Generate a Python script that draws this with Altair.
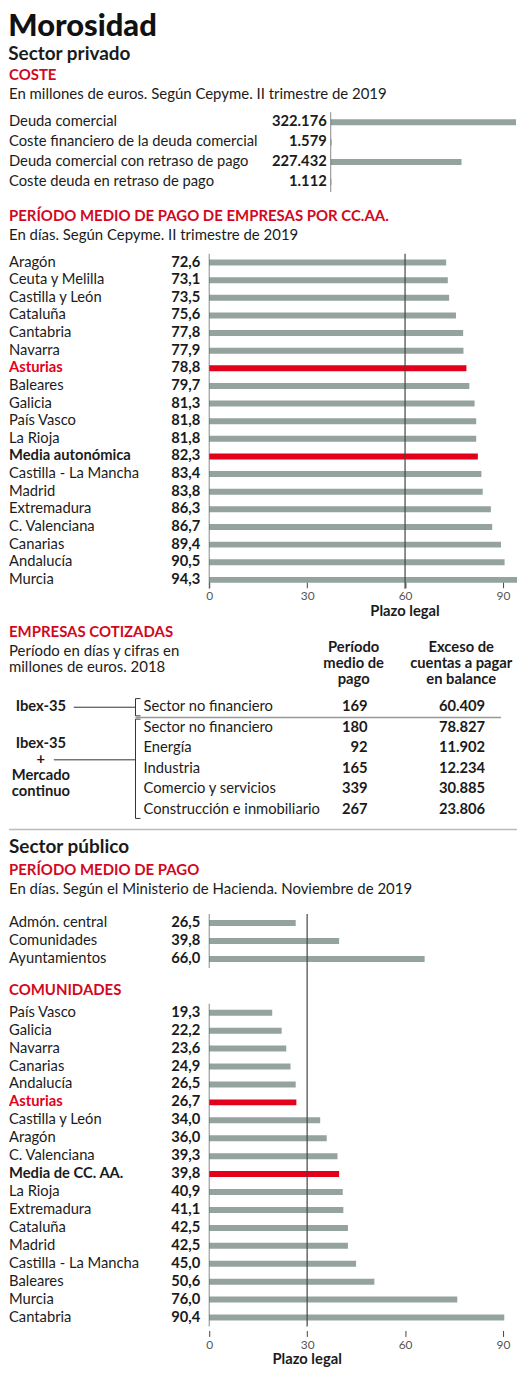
import pandas as pd
import altair as alt

# --- Sector privado: coste (millones de euros) ---
coste_conceptos = [
    "Deuda comercial",
    "Coste financiero de la deuda comercial",
    "Deuda comercial con retraso de pago",
    "Coste deuda en retraso de pago",
]
coste_millones = [322176, 1579, 227432, 1112]

# --- Sector privado: periodo medio de pago por CC.AA. (días) ---
ccaa_privado = [
    "Aragón", "Ceuta y Melilla", "Castilla y León", "Cataluña", "Cantabria",
    "Navarra", "Asturias", "Baleares", "Galicia", "País Vasco", "La Rioja",
    "Media autonómica", "Castilla - La Mancha", "Madrid", "Extremadura",
    "C. Valenciana", "Canarias", "Andalucía", "Murcia",
]
dias_privado = [72.6, 73.1, 73.5, 75.6, 77.8, 77.9, 78.8, 79.7, 81.3, 81.8,
                81.8, 82.3, 83.4, 83.8, 86.3, 86.7, 89.4, 90.5, 94.3]
destacados_privado = ["Asturias", "Media autonómica"]

# --- Empresas cotizadas (2018) ---
grupos_nombres = ["Ibex-35", "Ibex-35\n+\nMercado\ncontinuo"]
cot_grupo = [0, 1, 1, 1, 1, 1]
cot_sectores = [
    "Sector no financiero", "Sector no financiero", "Energía", "Industria",
    "Comercio y servicios", "Construcción e inmobiliario",
]
cot_periodo = [169, 180, 92, 165, 339, 267]
cot_exceso = [60409, 78827, 11902, 12234, 30885, 23806]
cab_periodo = "Período\nmedio de\npago"
cab_exceso = "Exceso de\ncuentas a pagar\nen balance"

# --- Sector público (días) ---
admin_publico = ["Admón. central", "Comunidades", "Ayuntamientos"]
dias_admin = [26.5, 39.8, 66.0]
TITULO_CCAA = "COMUNIDADES"
ccaa_publico = [
    "País Vasco", "Galicia", "Navarra", "Canarias", "Andalucía", "Asturias",
    "Castilla y León", "Aragón", "C. Valenciana", "Media de CC. AA.", "La Rioja",
    "Extremadura", "Cataluña", "Madrid", "Castilla - La Mancha", "Baleares",
    "Murcia", "Cantabria",
]
dias_publico = [19.3, 22.2, 23.6, 24.9, 26.5, 26.7, 34.0, 36.0, 39.3, 39.8,
                40.9, 41.1, 42.5, 42.5, 45.0, 50.6, 76.0, 90.4]
destacados_publico = ["Asturias", "Media de CC. AA."]

PLAZO_PRIVADO = 60
PLAZO_PUBLICO = 30
TICKS_DIAS = [0, 30, 60, 90]

FUENTE = "Lato"
GRIS = "#95a3a0"
ROJO = "#e3001b"
ROJO_TIT = "#d2081f"
NEGRO = "#1b1b1b"
ANCHO = 510
TAM = 14.8


def decimal_es(v):
    return f"{v:.1f}".replace(".", ",")


def miles_es(v):
    return f"{v:,}".replace(",", ".")


def titulo(texto, subtitulo, offset=9):
    return alt.TitleParams(
        texto, subtitle=subtitulo, anchor="start", font=FUENTE, fontSize=15,
        fontWeight="bold", color=ROJO_TIT, subtitleFont=FUENTE,
        subtitleFontSize=15, subtitleColor=NEGRO, subtitlePadding=4,
        subtitleLineHeight=16, offset=offset,
    )


def chart_dias(regiones, dias, destacados, dominio, paso, plazo, tit, sub,
               offset_eje, offset_tit, cabecera=None):
    df = pd.DataFrame({"region": regiones, "dias": dias})
    df["texto"] = df["dias"].map(decimal_es)
    df["destacado"] = df["region"].isin(destacados)
    df["rojo"] = df["region"] == "Asturias"
    alto = paso * len(dominio)
    escala_x = alt.Scale(domain=[0, 94.3], range=[201, ANCHO], nice=False)
    y = alt.Y("region:N", axis=None,
              scale=alt.Scale(domain=dominio, paddingInner=0, paddingOuter=0))
    base = alt.Chart(df).encode(y=y)

    barras = base.mark_bar(size=6).encode(
        x=alt.X("dias:Q", scale=escala_x).axis(
            values=TICKS_DIAS, domain=False, grid=False, tickColor="#444",
            tickSize=6, labelColor="#555", labelFont=FUENTE, labelFontSize=12,
            labelPadding=3, labelFlush=False, offset=offset_eje, title=None,
        ),
        color=alt.condition("datum.destacado", alt.value(ROJO), alt.value(GRIS)),
    )
    cero = base.mark_tick(orient="vertical", size=paso, thickness=1,
                          color="#555").encode(x=alt.datum(0))
    normales = base.transform_filter("!datum.destacado").mark_text(
        align="left", font=FUENTE, fontSize=TAM, color=NEGRO
    ).encode(x=alt.value(0), text="region:N")
    negritas = base.transform_filter("datum.destacado").mark_text(
        align="left", font=FUENTE, fontSize=TAM, fontWeight="bold"
    ).encode(
        x=alt.value(0), text="region:N",
        color=alt.condition("datum.rojo", alt.value(ROJO), alt.value(NEGRO)),
    )
    cifras = base.mark_text(
        align="right", font=FUENTE, fontSize=TAM, fontWeight="bold", color=NEGRO
    ).encode(x=alt.value(192), text="texto:N")

    df_plazo = pd.DataFrame({"t": ["Plazo legal"]})
    linea = alt.Chart(df_plazo).mark_rule(color="#444", strokeWidth=1.2).encode(
        x=alt.datum(plazo))
    leyenda = alt.Chart(df_plazo).mark_text(
        font=FUENTE, fontSize=TAM, fontWeight="bold", color=NEGRO
    ).encode(x=alt.datum(plazo), y=alt.value(alto + offset_eje + 30), text="t:N")

    capas = [barras, cero, linea, normales, negritas, cifras, leyenda]
    if cabecera:
        capas.append(
            alt.Chart(pd.DataFrame({"t": [cabecera]})).mark_text(
                align="left", font=FUENTE, fontSize=15, fontWeight="bold",
                color=ROJO_TIT, dy=-5,
            ).encode(x=alt.value(0), y=alt.datum(cabecera), text="t:N")
        )
    return alt.layer(*capas).properties(
        width=ANCHO, height=alto, title=titulo(tit, sub, offset_tit))


# --- Coste ---
df_coste = pd.DataFrame({"concepto": coste_conceptos, "valor": coste_millones})
df_coste["texto"] = df_coste["valor"].map(miles_es)
base_c = alt.Chart(df_coste).encode(
    y=alt.Y("concepto:N", sort=coste_conceptos, axis=None,
            scale=alt.Scale(paddingInner=0, paddingOuter=0)))
escala_c = alt.Scale(domain=[0, max(coste_millones)], range=[323, ANCHO - 1],
                     nice=False)
coste = alt.layer(
    base_c.mark_bar(size=6, color=GRIS).encode(
        x=alt.X("valor:Q", scale=escala_c, axis=None)),
    base_c.mark_tick(orient="vertical", size=20, thickness=1, color="#555")
    .encode(x=alt.datum(0)),
    base_c.mark_text(align="left", font=FUENTE, fontSize=TAM, color=NEGRO)
    .encode(x=alt.value(0), text="concepto:N"),
    base_c.mark_text(align="right", font=FUENTE, fontSize=TAM,
                     fontWeight="bold", color=NEGRO)
    .encode(x=alt.value(319), text="texto:N"),
).properties(
    width=ANCHO, height=80,
    title=titulo("COSTE", "En millones de euros. Según Cepyme. II trimestre de 2019",
                 10),
)

privado = chart_dias(
    ccaa_privado, dias_privado, destacados_privado, ccaa_privado, 17.7,
    PLAZO_PRIVADO, "PERÍODO MEDIO DE PAGO DE EMPRESAS POR CC.AA.",
    "En días. Según Cepyme. II trimestre de 2019", -7, 10,
)

# --- Empresas cotizadas ---
df_cot = pd.DataFrame({
    "fila": range(len(cot_sectores)), "grupo": cot_grupo,
    "sector": cot_sectores, "periodo": cot_periodo,
})
df_cot["exceso"] = [miles_es(v) for v in cot_exceso]
df_grp = df_cot.groupby("grupo")["fila"].agg(["min", "max", "mean"]).reset_index()
df_grp["nombre"] = [grupos_nombres[g] for g in df_grp["grupo"]]
df_grp["ini"] = df_grp["min"] - 0.42
df_grp["fin"] = df_grp["max"] + 0.42
df_grp["corte"] = df_grp["min"] - 0.5

y_fila = alt.Scale(domain=[-0.5, len(cot_sectores) - 0.5], reverse=True,
                   nice=False, zero=False)
base_t = alt.Chart(df_cot).encode(y=alt.Y("fila:Q", scale=y_fila, axis=None))
base_g = alt.Chart(df_grp)
txt = dict(font=FUENTE, fontSize=TAM, color=NEGRO)
cab = dict(font=FUENTE, fontSize=TAM, fontWeight="bold", color=NEGRO,
           lineBreak="\n", lineHeight=16, baseline="top", align="center")
y_centro = alt.Y("mean:Q", scale=y_fila)
cotizadas = alt.layer(
    base_t.mark_text(align="left", **txt).encode(x=alt.value(135), text="sector:N"),
    base_t.mark_text(align="right", fontWeight="bold", **txt)
    .encode(x=alt.value(360), text="periodo:N"),
    base_t.mark_text(align="right", fontWeight="bold", **txt)
    .encode(x=alt.value(478), text="exceso:N"),
    alt.Chart(pd.DataFrame({"t": [cab_periodo]})).mark_text(**cab)
    .encode(x=alt.value(346), y=alt.value(-57), text="t:N"),
    alt.Chart(pd.DataFrame({"t": [cab_exceso]})).mark_text(**cab)
    .encode(x=alt.value(454), y=alt.value(-57), text="t:N"),
    base_g.transform_filter("datum.grupo == 0").mark_text(
        align="center", fontWeight="bold", **txt
    ).encode(x=alt.value(32), y=y_centro, text="nombre:N"),
    base_g.transform_filter("datum.grupo == 1").mark_text(
        align="center", fontWeight="bold", lineBreak="\n", lineHeight=16, dy=-25,
        **txt
    ).encode(x=alt.value(32), y=y_centro, text="nombre:N"),
    base_g.mark_rule(color="#333").encode(
        x=alt.value(127), y=alt.Y("ini:Q", scale=y_fila), y2="fin:Q"),
    base_g.mark_rule(color="#333").encode(
        x=alt.value(127), x2=alt.value(132), y=alt.Y("ini:Q", scale=y_fila)),
    base_g.mark_rule(color="#333").encode(
        x=alt.value(127), x2=alt.value(132), y=alt.Y("fin:Q", scale=y_fila)),
    base_g.transform_filter("datum.grupo == 0").mark_rule(color="#333").encode(
        x=alt.value(65), x2=alt.value(127), y=y_centro),
    base_g.transform_filter("datum.grupo == 1").mark_rule(color="#333", yOffset=-9)
    .encode(x=alt.value(45), x2=alt.value(127), y=y_centro),
    base_g.transform_filter("datum.grupo > 0").mark_rule(
        color="#999", strokeWidth=1.5
    ).encode(x=alt.value(127), x2=alt.value(494), y=alt.Y("corte:Q", scale=y_fila)),
).properties(
    width=ANCHO, height=20.6 * len(cot_sectores),
    title=titulo("EMPRESAS COTIZADAS",
                 ["Período en días y cifras en", "millones de euros. 2018"], -35),
)

# --- Cabecera sector público ---
df_cab = pd.DataFrame({"t": ["Sector público"]})
cabecera_pub = alt.layer(
    alt.Chart(df_cab).mark_rule(color="#bbb", strokeWidth=1.5).encode(
        x=alt.value(0), x2=alt.value(ANCHO), y=alt.value(0)),
    alt.Chart(df_cab).mark_text(align="left", font=FUENTE, fontSize=19,
                                fontWeight="bold", color=NEGRO)
    .encode(x=alt.value(0), y=alt.value(18), text="t:N"),
).properties(width=ANCHO, height=22)

publico = chart_dias(
    admin_publico + ccaa_publico, dias_admin + dias_publico, destacados_publico,
    admin_publico + [" ", TITULO_CCAA] + ccaa_publico, 18, PLAZO_PUBLICO,
    "PERÍODO MEDIO DE PAGO",
    "En días. Según el Ministerio de Hacienda. Noviembre de 2019", 4, 17,
    cabecera=TITULO_CCAA,
)

bloque_publico = alt.vconcat(cabecera_pub, publico, spacing=5)
bloque_cot = alt.vconcat(cotizadas, bloque_publico, spacing=8)
bloque_priv = alt.vconcat(privado, bloque_cot, spacing=6)

chart = alt.vconcat(
    coste, bloque_priv, spacing=17,
    title=alt.TitleParams(
        "Morosidad", subtitle="Sector privado", anchor="start", font=FUENTE,
        fontSize=31, fontWeight=900, color="#111", subtitleFont=FUENTE,
        subtitleFontSize=19, subtitleFontWeight="bold", subtitleColor=NEGRO,
        subtitlePadding=3, offset=3,
    ),
).properties(padding=0).configure_view(stroke=None)

chart.save("out.html", embed_options={"renderer": "svg", "actions": False})
